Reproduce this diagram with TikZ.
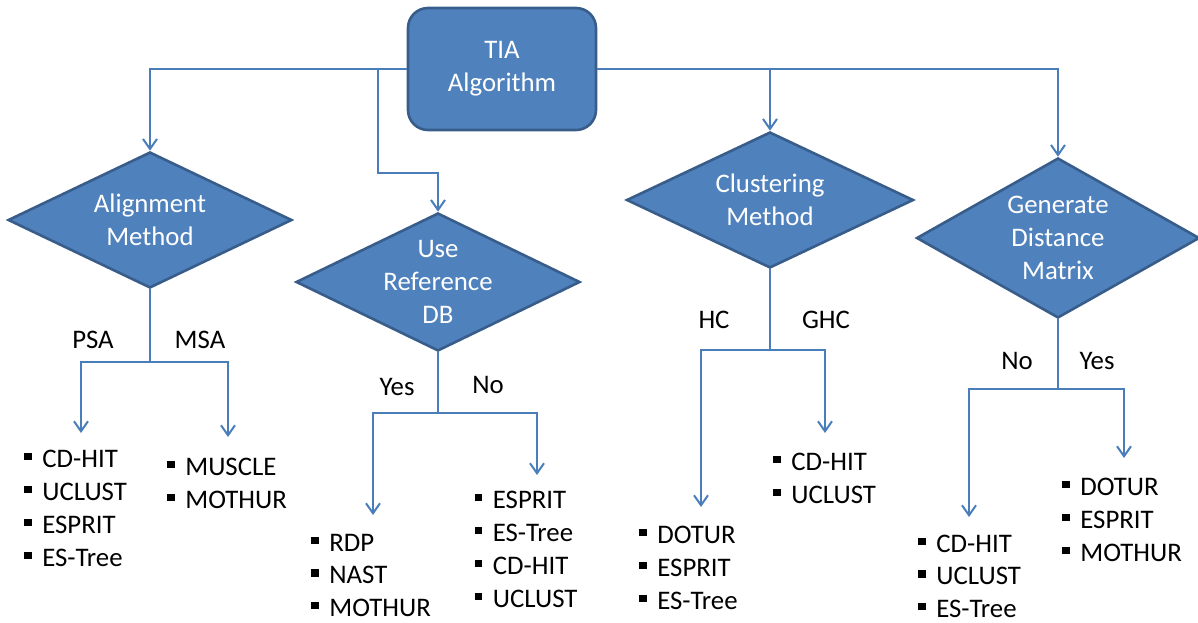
\documentclass[tikz,border=0pt]{standalone}
\usepackage{fontspec}
\setmainfont{Carlito}
\usetikzlibrary{shapes.geometric, arrows.meta}

\definecolor{boxblue}{RGB}{79,129,189}
\definecolor{boxedge}{RGB}{56,93,138}
\definecolor{linkblue}{RGB}{74,126,187}

\newcommand{\sqb}{\rule[0.26em]{0.27em}{0.27em}\hspace{0.4em}}

\begin{document}
\begin{tikzpicture}[x=0.5pt, y=-0.5pt, font=\fontsize{13.4}{16.6}\selectfont,
    start/.style={rectangle, rounded corners=10pt, draw=boxedge, line width=1.3pt, fill=boxblue, text=white, align=center, minimum width=94pt, minimum height=61pt},
    decision/.style={diamond, draw=boxedge, line width=1.3pt, fill=boxblue, inner sep=0pt},
    dtext/.style={text=white, align=center, inner sep=0pt},
    link/.style={draw=linkblue, line width=1pt},
    flow/.style={link, -{Straight Barb[length=5pt, width=7pt]}},
    choice/.style={anchor=base, inner sep=0pt},
    item/.style={anchor=base west, inner sep=0pt, text depth=0pt}]

    \useasboundingbox (0,0) rectangle (1198,622);

    % Start box and the four questions
    \node[start] (tia) at (502,69) {TIA\\Algorithm};

    \node[decision, minimum width=142pt, minimum height=68pt] (align) at (150,220) {};
    \node[dtext] (align-t) at (align) {Alignment\\Method};

    \node[decision, minimum width=142pt, minimum height=69pt] (useref) at (438,282) {};
    \node[dtext] (useref-t) at (useref) {Use\\Reference\\DB};

    \node[decision, minimum width=143.5pt, minimum height=68pt] (clust) at (770,200) {};
    \node[dtext] (clust-t) at (clust) {Clustering\\Method};

    \node[decision, minimum width=141.5pt, minimum height=80pt] (gen) at (1058,238) {};
    \node[dtext] (gen-t) at (gen) {Generate\\Distance\\Matrix};

    % Connectors from the start box
    \coordinate (j-ref) at (378,173);
    \draw[flow] (tia.west) -| (align.north);
    \draw[flow] (tia.west -| j-ref) -- (j-ref) -| (useref.north);
    \draw[flow] (tia.east) -| (gen.north);
    \draw[flow] (tia.east -| clust.north) -- (clust.north);

    % Alignment method: PSA / MSA
    \coordinate (a-split) at (150,362);
    \coordinate (psa-tip) at (81,433);
    \coordinate (msa-tip) at (228,437);
    \draw[link] (align.south) -- (a-split);
    \draw[flow] (a-split) -| (psa-tip);
    \draw[flow] (a-split) -| (msa-tip);
    \node[choice] (psa) at (93,348) {PSA};
    \node[choice] (msa) at (200,348) {MSA};
    \foreach \t [count=\k from 0] in {CD-HIT,UCLUST,ESPRIT,ES-Tree}
        \node[item] (psa-\k) at (24,{467+33*\k}) {\sqb\t};
    \foreach \t [count=\k from 0] in {MUSCLE,MOTHUR}
        \node[item] (msa-\k) at (167,{475+33*\k}) {\sqb\t};

    % Reference DB: Yes / No
    \coordinate (r-split) at (438,413);
    \coordinate (ryes-tip) at (373,515);
    \coordinate (rno-tip) at (537,475);
    \draw[link] (useref.south) -- (r-split);
    \draw[flow] (r-split) -| (ryes-tip);
    \draw[flow] (r-split) -| (rno-tip);
    \node[choice] (ryes) at (397,395) {Yes};
    \node[choice] (rno) at (488,393) {No};
    \foreach \t [count=\k from 0] in {RDP,NAST,MOTHUR}
        \node[item] (ryes-\k) at (311,{551+32.5*\k}) {\sqb\t};
    \foreach \t [count=\k from 0] in {ESPRIT,ES-Tree,CD-HIT,UCLUST}
        \node[item] (rno-\k) at (474.5,{508+33*\k}) {\sqb\t};

    % Clustering method: HC / GHC
    \coordinate (c-split) at (770,350);
    \coordinate (hc-tip) at (701,507);
    \coordinate (ghc-tip) at (825,433);
    \draw[link] (clust.south) -- (c-split);
    \draw[flow] (c-split) -| (hc-tip);
    \draw[flow] (c-split) -| (ghc-tip);
    \node[choice] (hc) at (714,328) {HC};
    \node[choice] (ghc) at (826,328) {GHC};
    \foreach \t [count=\k from 0] in {DOTUR,ESPRIT,ES-Tree}
        \node[item] (hc-\k) at (639,{543+33*\k}) {\sqb\t};
    \foreach \t [count=\k from 0] in {CD-HIT,UCLUST}
        \node[item] (ghc-\k) at (773,{470+33*\k}) {\sqb\t};

    % Distance matrix: No / Yes
    \coordinate (g-split) at (1058,389);
    \coordinate (gno-tip) at (969,517);
    \coordinate (gyes-tip) at (1124,458);
    \draw[link] (gen.south) -- (g-split);
    \draw[flow] (g-split) -| (gno-tip);
    \draw[flow] (g-split) -| (gyes-tip);
    \node[choice] (gno) at (1017,369) {No};
    \node[choice] (gyes) at (1097,369) {Yes};
    \foreach \t [count=\k from 0] in {CD-HIT,UCLUST,ES-Tree}
        \node[item] (gno-\k) at (918,{552+32.5*\k}) {\sqb\t};
    \foreach \t [count=\k from 0] in {DOTUR,ESPRIT,MOTHUR}
        \node[item] (gyes-\k) at (1062,{495+33*\k}) {\sqb\t};

\end{tikzpicture}
\end{document}
